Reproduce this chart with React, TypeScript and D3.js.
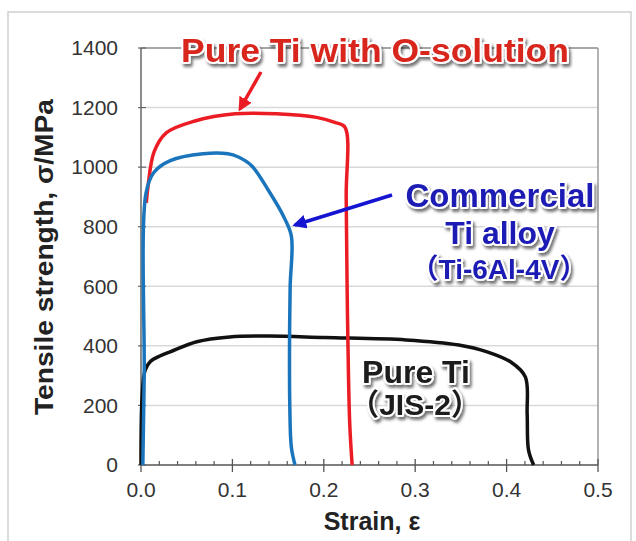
import React from "react";
import * as d3 from "d3";

// ---- data (strain, stress in MPa) ----
const oStrain = [0.0058, 0.0077, 0.0143, 0.0276, 0.059, 0.103, 0.148, 0.192, 0.212, 0.223, 0.2245, 0.2255, 0.227, 0.2285, 0.231];
const oStress = [880, 936, 1051, 1115, 1155, 1179, 1179, 1167, 1150, 1135, 900, 600, 300, 130, 0];

const alloyStrain = [0.002, 0.0035, 0.0055, 0.014, 0.032, 0.068, 0.095, 0.106, 0.121, 0.139, 0.1566, 0.1646, 0.1632, 0.1625, 0.1628, 0.1645, 0.1685];
const alloyStress = [0, 300, 913, 982, 1022, 1045, 1045, 1035, 1005, 924, 831, 767, 600, 400, 200, 60, 0];

const pureStrain = [0, 0.0012, 0.0045, 0.01, 0.02, 0.032, 0.061, 0.097, 0.14, 0.201, 0.29, 0.3476, 0.3787, 0.405, 0.4205, 0.4225, 0.424, 0.4296];
const pureStress = [0, 229, 318, 347, 365, 380, 414, 430, 433, 428, 420, 403, 380, 345, 296, 171, 50, 0];

const xTicks = [0, 0.1, 0.2, 0.3, 0.4, 0.5];
const xMinorTicks = [0.02, 0.04, 0.06, 0.08, 0.12, 0.14, 0.16, 0.18, 0.22, 0.24, 0.26, 0.28, 0.32, 0.34, 0.36, 0.38, 0.42, 0.44, 0.46, 0.48];
const yTicks = [0, 200, 400, 600, 800, 1000, 1200, 1400];

const W = 636;
const H = 541;
const left = 141;
const right = 598;
const top = 48;
const bottom = 465;

const x = d3.scaleLinear().domain([0, 0.5]).range([left, right]);
const y = d3.scaleLinear().domain([0, 1400]).range([bottom, top]);

const line = d3
  .line<[number, number]>()
  .x((d) => x(d[0]))
  .y((d) => y(d[1]))
  .curve(d3.curveCatmullRom.alpha(0.5));

const zip = (a: number[], b: number[]) => a.map((v, i) => [v, b[i]] as [number, number]);

const FONT = "'Liberation Sans', Arial, 'Noto Sans CJK JP', sans-serif";
const RED = "#ec1c24";
const BLUE_LINE = "#1b75bc";
const BLUE_TEXT = "#1c1cb4";
const BLUE_ARROW = "#1414d2";

export default function App() {
  const fx = (v: number) => (v === 0 ? "0.0" : d3.format(".1f")(v));
  const labelStyle = {
    paintOrder: "stroke" as const,
    stroke: "#ffffff",
    strokeWidth: 4,
    strokeLinejoin: "round" as const,
  };
  return (
    <svg
      width={W}
      height={H}
      style={{ position: "absolute", left: 0, top: 0, background: "#fff" }}
      fontFamily={FONT}
    >
      <defs>
        <filter id="shadow" x="-10%" y="-20%" width="130%" height="160%">
          <feGaussianBlur in="SourceAlpha" stdDeviation="1.6" result="b" />
          <feOffset in="b" dx="2" dy="2.5" result="o" />
          <feComponentTransfer in="o" result="s">
            <feFuncA type="linear" slope="0.55" />
          </feComponentTransfer>
          <feMerge>
            <feMergeNode in="s" />
            <feMergeNode in="SourceGraphic" />
          </feMerge>
        </filter>
        <marker id="arrRed" viewBox="0 0 10 10" refX="8" refY="5" markerWidth="4" markerHeight="4" orient="auto">
          <path d="M0,0 L10,5 L0,10 z" fill={RED} />
        </marker>
        <marker id="arrBlue" viewBox="0 0 10 10" refX="8" refY="5" markerWidth="4" markerHeight="4" orient="auto">
          <path d="M0,0 L10,5 L0,10 z" fill={BLUE_ARROW} />
        </marker>
      </defs>

      {/* outer frame */}
      <rect x={8} y={12} width={623} height={540} fill="none" stroke="#d0d0d0" strokeWidth={1.5} />

      {/* gridlines */}
      {yTicks.slice(1, -1).map((t) => (
        <line key={t} x1={left} x2={right} y1={y(t)} y2={y(t)} stroke="#d9d9d9" strokeWidth={1.5} />
      ))}

      {/* frame */}
      <line x1={left} x2={right} y1={top} y2={top} stroke="#8a8a8a" strokeWidth={1.5} />
      <line x1={right} x2={right} y1={top} y2={bottom} stroke="#9a9a9a" strokeWidth={1.5} />
      <line x1={left} x2={left} y1={top} y2={bottom} stroke="#666" strokeWidth={1.5} />
      <line x1={left} x2={right} y1={bottom} y2={bottom} stroke="#555" strokeWidth={1.5} />

      {/* y ticks */}
      {yTicks.map((t) => (
        <g key={t}>
          <line x1={left - 3} x2={left + 5} y1={y(t)} y2={y(t)} stroke="#666" strokeWidth={1.2} />
          <text x={118} y={y(t)} dy="0.35em" textAnchor="end" fontSize={21} fill="#333">
            {t}
          </text>
        </g>
      ))}

      {/* x ticks */}
      {xMinorTicks.map((t) => (
        <line key={t} x1={x(t)} x2={x(t)} y1={bottom} y2={bottom - 4} stroke="#555" strokeWidth={1.2} />
      ))}
      {xTicks.map((t) => (
        <g key={t}>
          <line x1={x(t)} x2={x(t)} y1={bottom - 6} y2={bottom + 7} stroke="#555" strokeWidth={1.3} />
          <text x={x(t)} y={497} textAnchor="middle" fontSize={21} fill="#333">
            {fx(t)}
          </text>
        </g>
      ))}

      {/* axis titles */}
      <text x={372} y={530} textAnchor="middle" fontSize={25} fontWeight="bold" fill="#222">
        Strain, ε
      </text>
      <text
        transform={`translate(53,257) rotate(-90)`}
        textAnchor="middle"
        fontSize={25}
        fontWeight="bold"
        fill="#222"
        textLength={316}
        lengthAdjust="spacingAndGlyphs"
      >
        Tensile strength, σ/MPa
      </text>

      {/* curves */}
      <path d={line(zip(pureStrain, pureStress)) || ""} fill="none" stroke="#111" strokeWidth={3.5} strokeLinejoin="round" />
      <path d={line(zip(oStrain, oStress)) || ""} fill="none" stroke={RED} strokeWidth={3.5} strokeLinejoin="round" />
      <path d={line(zip(alloyStrain, alloyStress)) || ""} fill="none" stroke={BLUE_LINE} strokeWidth={3.5} strokeLinejoin="round" />

      {/* arrows */}
      <line x1={261} y1={72} x2={240} y2={109} stroke={RED} strokeWidth={3.5} markerEnd="url(#arrRed)" />
      <line x1={392} y1={195} x2={295} y2={225} stroke={BLUE_ARROW} strokeWidth={3.5} markerEnd="url(#arrBlue)" />

      {/* labels */}
      <g filter="url(#shadow)" fontWeight="bold">
        <text
          x={375}
          y={62}
          textAnchor="middle"
          fontSize={33}
          fill="#d8261f"
          textLength={388}
          lengthAdjust="spacingAndGlyphs"
          style={labelStyle}
        >
          Pure Ti with O-solution
        </text>
        <text x={500} y={207} textAnchor="middle" fontSize={33} fill={BLUE_TEXT} style={labelStyle}>
          Commercial
        </text>
        <text x={500} y={244} textAnchor="middle" fontSize={32} fill={BLUE_TEXT} style={labelStyle}>
          Ti alloy
        </text>
        <text x={499} y={279} textAnchor="middle" fontSize={28} fill={BLUE_TEXT} style={labelStyle}>
          （Ti-6Al-4V）
        </text>
        <text x={416} y={383} textAnchor="middle" fontSize={32} fill="#1a1a1a" style={labelStyle}>
          Pure Ti
        </text>
        <text x={415} y={415} textAnchor="middle" fontSize={30} fill="#1a1a1a" style={labelStyle}>
          （JIS-2）
        </text>
      </g>
    </svg>
  );
}
